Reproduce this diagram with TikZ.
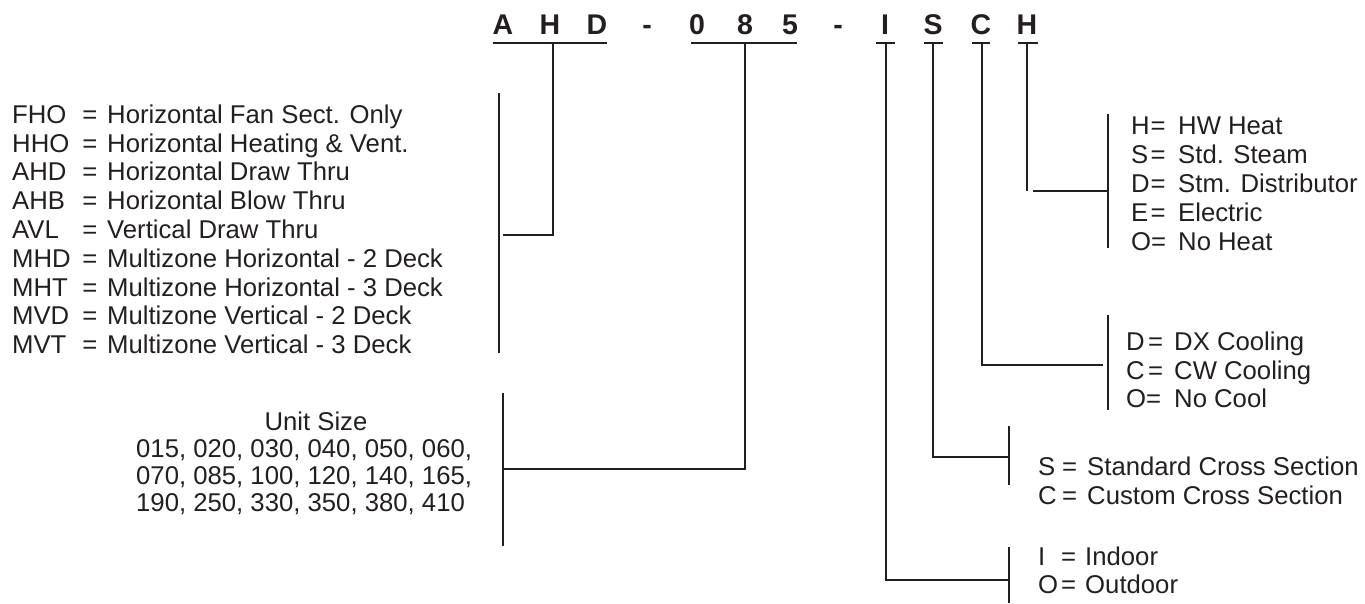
\documentclass[tikz,border=0pt]{standalone}
\usepackage{fontspec}
\setmainfont{Liberation Sans}
\definecolor{ink}{HTML}{231F20}
\begin{document}
\begin{tikzpicture}[x=1bp,y=-1bp,
  lbl/.style={inner sep=0pt, anchor=base west, text=ink,
              font=\fontsize{25.7bp}{28bp}\selectfont},
  eq/.style={lbl, anchor=base},
  code/.style={inner sep=0pt, anchor=base, text=ink,
               font=\bfseries\fontsize{28.5bp}{32bp}\selectfont},
  wire/.style={draw=ink, line width=2.3bp},
]
\useasboundingbox (0,0) rectangle (1365,604);

% ---- model code letters ----
\foreach \ch/\xx [count=\i] in {A/503, H/550, D/597, -/647, 0/697, 8/745,
                                5/790, -/838, I/885, S/933, C/981, H/1027}
  \node[code] (t\i) at (\xx,35) {\ch};

% ---- underlines ----
\coordinate (uA1) at (493,43);  \coordinate (uA2) at (607,43);
\coordinate (uB1) at (691,43);  \coordinate (uB2) at (797,43);
\coordinate (uC1) at (876,43);  \coordinate (uC2) at (895,43);
\coordinate (uD1) at (924,43);  \coordinate (uD2) at (943,43);
\coordinate (uE1) at (972,43);  \coordinate (uE2) at (990,43);
\coordinate (uF1) at (1018,43); \coordinate (uF2) at (1038,43);
\foreach \u in {A,B,C,D,E,F} \draw[wire] (u\u1) -- (u\u2);

% ---- unit type branch ----
\coordinate (sA) at (553,43);  \coordinate (kA) at (553,235);
\coordinate (hA) at (503,235);
\coordinate (bA1) at (499,93); \coordinate (bA2) at (499,353);
\draw[wire] (sA) -- (kA) -- (hA);
\draw[wire] (bA1) -- (bA2);

\foreach \cd/\ds [count=\i] in {
    FHO/Horizontal Fan Sect. Only,
    HHO/Horizontal Heating \& Vent.,
    AHD/Horizontal Draw Thru,
    AHB/Horizontal Blow Thru,
    AVL/Vertical Draw Thru,
    MHD/Multizone Horizontal - 2 Deck,
    MHT/Multizone Horizontal - 3 Deck,
    MVD/Multizone Vertical - 2 Deck,
    MVT/Multizone Vertical - 3 Deck} {
  \pgfmathsetmacro\yy{123.5+28.75*(\i-1)}
  \node[lbl] (tc\i) at (12,\yy) {\cd};
  \node[eq] (te\i) at (90,\yy) {=};
  \node[lbl] (td\i) at (107,\yy) {\ds};
}

% ---- unit size branch ----
\coordinate (sB) at (745,43);  \coordinate (kB) at (745,469);
\coordinate (hB) at (503,469);
\coordinate (bB1) at (503,393); \coordinate (bB2) at (503,546);
\draw[wire] (sB) -- (kB) -- (hB);
\draw[wire] (bB1) -- (bB2);

\node[lbl, anchor=base] (us) at (316,430) {Unit Size};
\node[lbl] (us1) at (136,457.2) {015, 020, 030, 040, 050, 060,};
\node[lbl] (us2) at (136,484.5) {070, 085, 100, 120, 140, 165,};
\node[lbl] (us3) at (136,511.8) {190, 250, 330, 350, 380, 410};

% ---- location branch ----
\coordinate (sC) at (886,43);  \coordinate (kC) at (886,580);
\coordinate (hC) at (1009,580);
\coordinate (bC1) at (1009,547); \coordinate (bC2) at (1009,603);
\draw[wire] (sC) -- (kC) -- (hC);
\draw[wire] (bC1) -- (bC2);
\node[lbl] (lo1) at (1038,565.5) {I};
\node[eq] (le1) at (1068.5,565.5) {=};
\node[lbl] (ld1) at (1085,565.5) {Indoor};
\node[lbl] (lo2) at (1038,593.5) {O};
\node[eq] (le2) at (1068.5,593.5) {=};
\node[lbl] (ld2) at (1085,593.5) {Outdoor};

% ---- cross section branch ----
\coordinate (sD) at (933,43);  \coordinate (kD) at (933,457);
\coordinate (hD) at (1009,457);
\coordinate (bD1) at (1009,426); \coordinate (bD2) at (1009,485);
\draw[wire] (sD) -- (kD) -- (hD);
\draw[wire] (bD1) -- (bD2);
\node[lbl] (xo1) at (1038,475.5) {S};
\node[eq] (xe1) at (1069.5,475.5) {=};
\node[lbl] (xd1) at (1087,475.5) {Standard Cross Section};
\node[lbl] (xo2) at (1038,504.5) {C};
\node[eq] (xe2) at (1069.5,504.5) {=};
\node[lbl] (xd2) at (1087,504.5) {Custom Cross Section};

% ---- cooling branch ----
\coordinate (sE) at (982,43);  \coordinate (kE) at (982,365);
\coordinate (hE) at (1103,365);
\coordinate (bE1) at (1108,315); \coordinate (bE2) at (1108,410);
\draw[wire] (sE) -- (kE) -- (hE);
\draw[wire] (bE1) -- (bE2);
\node[lbl] (co1) at (1126,350.5) {D};
\node[eq] (ce1) at (1155.5,350.5) {=};
\node[lbl] (cd1) at (1174,350.5) {DX Cooling};
\node[lbl] (co2) at (1126,379) {C};
\node[eq] (ce2) at (1155.5,379) {=};
\node[lbl] (cd2) at (1174,379) {CW Cooling};
\node[lbl] (co3) at (1126,407.5) {O=};
\node[lbl] (cd3) at (1174,407.5) {No Cool};

% ---- heating branch ----
\coordinate (sF) at (1027,43);  \coordinate (kF) at (1027,191);
\coordinate (hF1) at (1033,191); \coordinate (hF2) at (1108,191);
\coordinate (bF1) at (1108,114); \coordinate (bF2) at (1108,248);
\draw[wire] (sF) -- (kF);
\draw[wire] (hF1) -- (hF2);
\draw[wire] (bF1) -- (bF2);
\foreach \cd/\ds [count=\i] in {H/HW Heat, S/Std. Steam,
                                D/Stm. Distributor, E/Electric} {
  \pgfmathsetmacro\yy{134.5+29*(\i-1)}
  \node[lbl] (ho\i) at (1131,\yy) {\cd};
  \node[eq] (he\i) at (1158,\yy) {=};
  \node[lbl] (hd\i) at (1178,\yy) {\ds};
}
\node[lbl] (ho5) at (1131,250.5) {O=};
\node[lbl] (hd5) at (1178,250.5) {No Heat};
\end{tikzpicture}
\end{document}
